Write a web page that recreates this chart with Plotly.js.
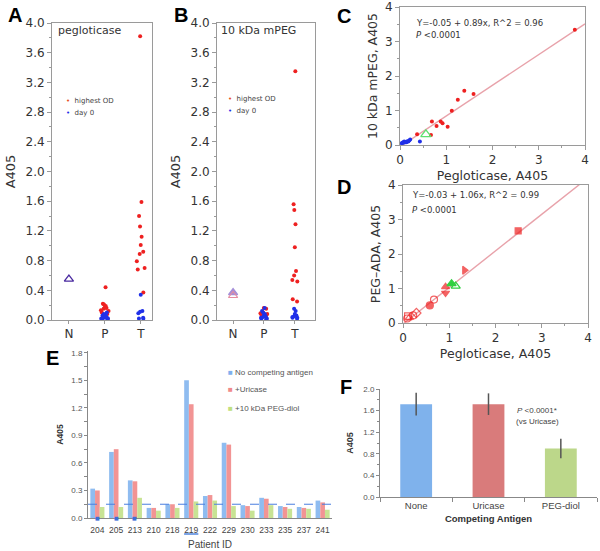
<!DOCTYPE html>
<html><head><meta charset="utf-8">
<script src="https://cdn.plot.ly/plotly-3.0.1.min.js"></script>
<style>html,body{margin:0;padding:0;background:#fff}#chart{width:600px;height:551px}</style>
</head><body><div id="chart"></div>
<script>
// ---------- DATA ----------
const groups = ['N', 'P', 'T'];
// Panel A: pegloticase ELISA
const aNormal = [0.55];
const aHighP = [0.44, 0.22, 0.21, 0.19, 0.17, 0.16, 0.15, 0.13, 0.12, 0.10, 0.08];
const aDay0P = [0.10, 0.08, 0.07, 0.06, 0.05, 0.05, 0.04, 0.03, 0.03, 0.02, 0.02, 0.01, 0.01];
const aHighT = [3.82, 1.59, 1.40, 1.26, 1.12, 1.01, 0.92, 0.89, 0.79, 0.70, 0.68, 0.37];
const aDay0T = [0.34, 0.12, 0.11, 0.09, 0.03, 0.02, 0.02];
// Panel B: 10 kDa mPEG ELISA
const bNormal = [0.37, 0.33];
const bHighP = [0.16, 0.15, 0.10, 0.09, 0.08, 0.07, 0.06];
const bDay0P = [0.16, 0.12, 0.10, 0.08, 0.06, 0.05, 0.04, 0.03, 0.02, 0.02, 0.01];
const bHighT = [3.35, 1.56, 1.48, 1.29, 0.98, 0.66, 0.60, 0.54, 0.52, 0.28, 0.25];
const bDay0T = [0.15, 0.12, 0.08, 0.06, 0.05, 0.04, 0.03, 0.03, 0.02];
// Panel C: pegloticase vs 10 kDa mPEG
const cHighX = [3.78, 1.39, 1.59, 1.25, 1.12, 1.03, 0.92, 0.88, 0.79, 0.69, 0.67, 0.37];
const cHighY = [3.34, 1.57, 1.48, 1.31, 0.99, 0.53, 0.63, 0.68, 0.55, 0.68, 0.29, 0.31];
const cNormX = [0.56];
const cNormY = [0.31];
const cDay0X = [0.43, 0.04, 0.05, 0.07, 0.09, 0.10, 0.12, 0.14, 0.16, 0.18, 0.20, 0.22];
const cDay0Y = [0.10, 0.05, 0.06, 0.08, 0.10, 0.07, 0.09, 0.08, 0.11, 0.10, 0.13, 0.16];
const cFit = {a: -0.05, b: 0.89};
// Panel D: pegloticase vs PEG-ADA
const dX = [2.49, 1.33, 0.92, 0.92, 0.67, 0.58, 0.29, 0.22, 0.11, 0.09, 0.14];
const dY = [2.67, 1.53, 1.05, 0.87, 0.68, 0.51, 0.29, 0.22, 0.19, 0.13, 0.16];
const dNormX = [1.05, 1.14];
const dNormY = [1.14, 1.07];
const dFit = {a: -0.03, b: 1.06};
const fitX = [0, 4];
// Panel E: competition per patient
const patients = ['204','205','213','210','218','219','222','229','230','233','235','237','241'];
const eNone    = [0.32, 0.72, 0.41, 0.11, 0.15, 1.50, 0.24, 0.82, 0.14, 0.22, 0.13, 0.12, 0.19];
const eUricase = [0.30, 0.75, 0.40, 0.11, 0.15, 1.24, 0.25, 0.80, 0.13, 0.21, 0.12, 0.11, 0.17];
const ePegDiol = [0.12, 0.12, 0.22, 0.08, 0.11, 0.18, 0.19, 0.13, 0.08, 0.14, 0.10, 0.10, 0.09];
const eTicks = [0, 0.3, 0.6, 0.9, 1.2, 1.5, 1.8];
const eCutoff = 0.15;
const eMarked = ['204', '205', '213'];
const eUnderlined = ['219'];
// Panel F: mean competition
const fCats = ['None', 'Uricase', 'PEG-diol'];
const fMean = [1.72, 1.72, 0.90];
const fErr  = [0.21, 0.20, 0.18];

// ---------- STYLE ----------
const dSymbols = ['square','triangle-right','triangle-up','triangle-down','circle-open','circle','diamond-open','circle-open','square-open','circle-open','triangle-up-open'];
const dSizes = [6, 7, 7, 7, 7, 7, 7, 7, 7, 7, 7];
const dNormSymbols = ['triangle-up', 'triangle-up-open'];
const bNormSymbols = ['triangle-up', 'triangle-up-open'];
const bNormColors = ['#a48fd8', '#e58ca0'];
const W = 600, H = 551;
const fx = p => p / W, fy = p => 1 - p / H;
const grey = '#9a9a9a', txt = '#333', dv = 'DejaVu Sans', ls = 'Liberation Sans';
const RED = '#ee2020', BLUE = '#2030e8';

function ax(o) {
  return Object.assign({showgrid:false, zeroline:false, showline:true, linecolor:grey, linewidth:1,
    ticks:'outside', tickcolor:grey, ticklen:4, tickfont:{family:dv, size:12, color:txt}, fixedrange:true}, o);
}
function jit(vals, cat, color, xa, ya) {
  return {type:'box', x: vals.map(() => cat), y: vals, xaxis: xa, yaxis: ya, boxpoints:'all', jitter:0.55,
    pointpos:0, fillcolor:'rgba(0,0,0,0)', line:{width:0, color:'rgba(0,0,0,0)'},
    marker:{color: color, size:4}, showlegend:false, hoverinfo:'y'};
}

const traces = [
  // A
  {type:'scatter', mode:'markers', x: aNormal.map(() => 'N'), y: aNormal, xaxis:'x', yaxis:'y',
   marker:{symbol:'triangle-up-open', size:8, color:'#4a2aa0', line:{width:1.3}}, showlegend:false},
  jit(aHighP, 'P', RED, 'x', 'y'), jit(aDay0P, 'P', BLUE, 'x', 'y'),
  jit(aHighT, 'T', RED, 'x', 'y'), jit(aDay0T, 'T', BLUE, 'x', 'y'),
  // B
  {type:'scatter', mode:'markers', x: bNormal.map(() => 'N'), y: bNormal, xaxis:'x2', yaxis:'y2',
   marker:{symbol:bNormSymbols, size:8, color:bNormColors, line:{width:1.2, color:bNormColors}}, showlegend:false},
  jit(bHighP, 'P', RED, 'x2', 'y2'), jit(bDay0P, 'P', BLUE, 'x2', 'y2'),
  jit(bHighT, 'T', RED, 'x2', 'y2'), jit(bDay0T, 'T', BLUE, 'x2', 'y2'),
  // C
  {type:'scatter', mode:'lines', x: fitX, y: fitX.map(v => cFit.a + cFit.b * v), xaxis:'x3', yaxis:'y3',
   line:{color:'#e8a2aa', width:1.4}, showlegend:false},
  {type:'scatter', mode:'markers', x: cDay0X, y: cDay0Y, xaxis:'x3', yaxis:'y3', marker:{color:BLUE, size:4}, showlegend:false},
  {type:'scatter', mode:'markers', x: cHighX, y: cHighY, xaxis:'x3', yaxis:'y3', marker:{color:RED, size:4}, showlegend:false},
  {type:'scatter', mode:'markers', x: cNormX, y: cNormY, xaxis:'x3', yaxis:'y3',
   marker:{symbol:'triangle-up-open', size:9, color:'#5fe070', line:{width:1.3}}, showlegend:false},
  // D
  {type:'scatter', mode:'lines', x: fitX, y: fitX.map(v => dFit.a + dFit.b * v), xaxis:'x4', yaxis:'y4',
   line:{color:'#e8a2aa', width:1.4}, showlegend:false},
  {type:'scatter', mode:'markers', x: dX, y: dY, xaxis:'x4', yaxis:'y4',
   marker:{symbol:dSymbols, size:dSizes, color:RED, line:{width:1.2, color:RED}}, showlegend:false},
  {type:'scatter', mode:'markers', x: dNormX, y: dNormY, xaxis:'x4', yaxis:'y4',
   marker:{symbol:dNormSymbols, size:8, color:'#30d040', line:{width:1.2, color:'#30d040'}}, showlegend:false},
  // E
  {type:'bar', name:'No competing antigen', x: patients, y: eNone, xaxis:'x5', yaxis:'y5', marker:{color:'#8fbcf0'}, showlegend:false},
  {type:'bar', name:'+Uricase', x: patients, y: eUricase, xaxis:'x5', yaxis:'y5', marker:{color:'#f29494'}, showlegend:false},
  {type:'bar', name:'+10 kDa PEG-diol', x: patients, y: ePegDiol, xaxis:'x5', yaxis:'y5', marker:{color:'#c8e394'}, showlegend:false},
  // F
  {type:'bar', x: fCats, y: fMean, xaxis:'x6', yaxis:'y6', width:0.44,
   marker:{color:['#7fb2ec', '#d97b7b', '#bcd78a']},
   error_y:{type:'data', array:fErr, visible:true, color:'#555', thickness:1.5, width:0}, showlegend:false}
];

const catAx = (dom, rng, anchor) => ax({domain:dom, anchor:anchor, type:'category', categoryorder:'array',
  categoryarray:groups, range:rng, mirror:true, ticklen:3});
const valAx = (dom, anchor, title) => ax({domain:dom, anchor:anchor, range:[0, 4.0], dtick:0.4, tick0:0,
  tickformat:'.1f', mirror:true, minor:{dtick:0.2, ticks:'outside', ticklen:2, tickcolor:grey},
  title:{text:title, font:{family:dv, size:13, color:txt}, standoff:6}});
const sqAx = (dom, anchor, title, extra) => ax(Object.assign({domain:dom, anchor:anchor, range:[0, 4], dtick:1,
  mirror:true, minor:{dtick:0.5, ticks:'outside', ticklen:2, tickcolor:grey},
  title:{text:title, font:{family:dv, size:12.5, color:txt}, standoff:4}}, extra || {}));
const xlFont = {family:ls, size:8, color:'#555'};

const layout = {
  width: W, height: H, margin:{l:0, r:0, t:0, b:0}, paper_bgcolor:'#fff', plot_bgcolor:'#fff',
  showlegend:false, boxmode:'overlay', barmode:'group', bargap:0.25, bargroupgap:0,
  xaxis: catAx([fx(52), fx(152)], [-0.47, 2.31], 'y'),
  yaxis: valAx([fy(320), fy(23)], 'x', 'A405'),
  xaxis2: catAx([fx(217), fx(315)], [-0.52, 2.65], 'y2'),
  yaxis2: valAx([fy(320), fy(23)], 'x2', 'A405'),
  xaxis3: sqAx([fx(400), fx(585)], 'y3', 'Pegloticase, A405'),
  yaxis3: sqAx([fy(145), fy(7)], 'x3', '10 kDa mPEG, A405'),
  xaxis4: sqAx([fx(403), fx(588)], 'y4', 'Pegloticase, A405'),
  yaxis4: sqAx([fy(323), fy(185)], 'x4', 'PEG\u2013ADA, A405'),
  xaxis5: ax({domain:[fx(88), fx(332)], anchor:'y5', type:'category', categoryorder:'array', categoryarray:patients,
    range:[-0.5, patients.length - 0.5], linecolor:'#888', ticks:'', ticklabelstandoff:4,
    tickfont:{family:ls, size:8.5, color:'#444'}, title:{text:'Patient ID', font:{family:ls, size:10, color:'#444'}, standoff:6}}),
  yaxis5: ax({domain:[fy(518), fy(351)], anchor:'x5', range:[0, 1.82], tickmode:'array', tickvals:eTicks,
    ticktext:eTicks.map(v => v.toFixed(1)), linecolor:'#888',
    tickcolor:'#888', ticklen:3, tickfont:xlFont, minor:{dtick:0.15, ticks:'outside', ticklen:3, tickcolor:'#888'},
    title:{text:'<b>A405</b>', font:{family:ls, size:8.5, color:'#333'}, standoff:6}}),
  xaxis6: ax({domain:[fx(380), fx(597)], anchor:'y6', type:'category', linecolor:'#888', tickcolor:'#888',
    tickson:'boundaries', ticklen:4, tickfont:{family:ls, size:9.5, color:'#444'},
    title:{text:'<b>Competing Antigen</b>', font:{family:ls, size:9.5, color:'#333'}, standoff:4}}),
  yaxis6: ax({domain:[fy(497), fy(389)], anchor:'x6', range:[0, 2.001], dtick:0.4, tick0:0, tickformat:'.1f', linecolor:'#888',
    tickcolor:'#888', ticklen:3, tickfont:xlFont, minor:{dtick:0.2, ticks:'outside', ticklen:2, tickcolor:'#888'},
    title:{text:'<b>A405</b>', font:{family:ls, size:9, color:'#333'}, standoff:8}}),
  shapes: [
    {type:'line', xref:'x5 domain', yref:'y5', x0:0, x1:1, y0:eCutoff, y1:eCutoff, line:{color:'#4a7fe0', width:1, dash:'dash'}},
  ].concat(eUnderlined.map(id => {
    const i = patients.indexOf(id);
    return {type:'line', xref:'x5', yref:'paper', x0:i - 0.38, x1:i + 0.38, y0:fy(534), y1:fy(534), line:{color:'#5b8de0', width:1.6}};
  })),
  annotations: []
};

const A = layout.annotations;
function note(text, x, y, o) {
  A.push(Object.assign({text:text, xref:'paper', yref:'paper', x:fx(x), y:fy(y), showarrow:false,
    xanchor:'center', yanchor:'middle', font:{family:dv, size:11, color:txt}}, o || {}));
}
const letterFont = {family:ls, size:20, color:'#000', weight:'bold'};
note('<b>A</b>', 15, 15, {font:letterFont});
note('<b>B</b>', 181, 15, {font:letterFont});
note('<b>C</b>', 344, 16, {font:letterFont});
note('<b>D</b>', 344, 187, {font:letterFont});
note('<b>E</b>', 52, 358, {font:letterFont});
note('<b>F</b>', 346, 387, {font:letterFont});
note('pegloticase', 56, 31, {xanchor:'left'});
note('10 kDa mPEG', 219, 31, {xanchor:'left'});
const legFont = {family:dv, size:7, color:'#444'};
note('<span style="color:#e8501e">\u2022</span>  highest OD', 64, 101, {xanchor:'left', font:legFont});
note('<span style="color:#2030e8">\u2022</span>  day 0', 64, 113, {xanchor:'left', font:legFont});
note('<span style="color:#e8501e">\u2022</span>  highest OD', 226, 99, {xanchor:'left', font:legFont});
note('<span style="color:#2030e8">\u2022</span>  day 0', 226, 111, {xanchor:'left', font:legFont});
const eqFont = {family:dv, size:8.5, color:'#333'};
note('Y=-0.05 + 0.89x, R^2 = 0.96', 414, 23, {xanchor:'left', font:eqFont});
note('<i>P</i> &lt;0.0001', 414, 35, {xanchor:'left', font:eqFont});
note('Y=-0.03 + 1.06x, R^2 = 0.99', 410, 195, {xanchor:'left', font:eqFont});
note('<i>P</i> &lt;0.0001', 410, 210, {xanchor:'left', font:eqFont});
const eLegFont = {family:ls, size:8, color:'#555'};
note('<span style="color:#7fb0ee">\u25A0</span> No competing antigen', 226, 372, {xanchor:'left', font:eLegFont});
note('<span style="color:#f08a8a">\u25A0</span> +Uricase', 226, 389, {xanchor:'left', font:eLegFont});
note('<span style="color:#c0e080">\u25A0</span> +10 kDa PEG-diol', 226, 408, {xanchor:'left', font:eLegFont});
note('<i>P</i> &lt;0.0001*', 537, 410, {font:{family:ls, size:8, color:'#444'}});
note('(vs Uricase)', 537, 421, {font:{family:ls, size:8, color:'#444'}});
eMarked.forEach(id => A.push({text:'\u25A0', xref:'x5', yref:'paper', x:patients.indexOf(id), y:fy(523), showarrow:false,
  font:{family:dv, size:5, color:'#3d6fd8'}}));

Plotly.newPlot('chart', traces, layout, {displayModeBar:false, staticPlot:true});
</script></body></html>
